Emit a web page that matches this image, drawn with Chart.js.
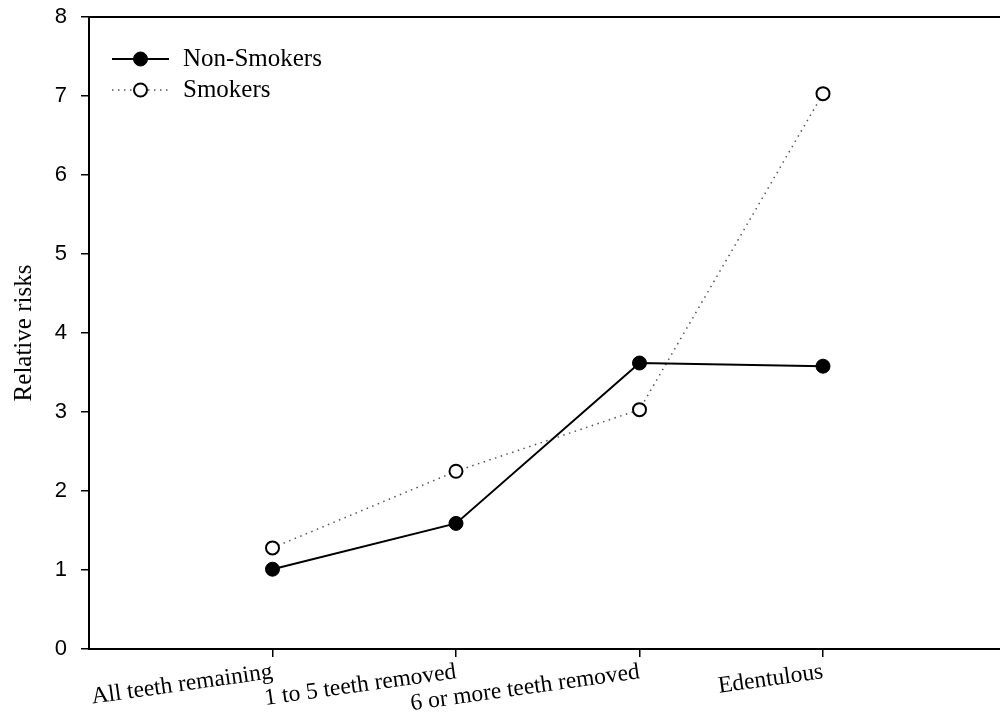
<!DOCTYPE html>
<html>
<head>
<meta charset="utf-8">
<script src="https://cdn.jsdelivr.net/npm/chart.js@4/dist/chart.umd.min.js"></script>
<style>
  html, body { margin: 0; padding: 0; background: #fff; overflow: hidden; }
  #wrap { position: relative; width: 1015px; height: 725px; }
</style>
</head>
<body>
<div id="wrap"><canvas id="c" width="1015" height="725"></canvas></div>
<script>
const categories = ['All teeth remaining', '1 to 5 teeth removed', '6 or more teeth removed', 'Edentulous'];
const categoryPositions = [1, 2, 3, 4];
const nonSmokers = [1.01, 1.59, 3.62, 3.58];
const smokers = [1.28, 2.25, 3.03, 7.03];
const yTicks = [0, 1, 2, 3, 4, 5, 6, 7, 8];
const seriesNames = ['Non-Smokers', 'Smokers'];

const toPoints = vals => vals.map((v, i) => ({ x: categoryPositions[i], y: v }));

const legendPlugin = {
  id: 'customLegend',
  afterDraw(chart) {
    const ctx = chart.ctx;
    ctx.save();
    const items = [
      { y: 59, solid: true, label: seriesNames[0] },
      { y: 90, solid: false, label: seriesNames[1] }
    ];
    items.forEach(it => {
      ctx.beginPath();
      if (it.solid) {
        ctx.setLineDash([]);
        ctx.lineWidth = 2;
        ctx.strokeStyle = '#000';
      } else {
        ctx.setLineDash([1.5, 4.5]);
        ctx.lineWidth = 1.5;
        ctx.strokeStyle = '#555';
      }
      ctx.moveTo(112, it.y);
      ctx.lineTo(169, it.y);
      ctx.stroke();
      ctx.setLineDash([]);
      ctx.beginPath();
      if (it.solid) {
        ctx.arc(140.5, it.y, 7, 0, Math.PI * 2);
        ctx.fillStyle = '#000';
        ctx.fill();
        ctx.lineWidth = 1;
        ctx.strokeStyle = '#000';
        ctx.stroke();
      } else {
        ctx.arc(140.5, it.y, 6.5, 0, Math.PI * 2);
        ctx.fillStyle = '#fff';
        ctx.fill();
        ctx.lineWidth = 2;
        ctx.strokeStyle = '#000';
        ctx.stroke();
      }
      ctx.fillStyle = '#000';
      ctx.font = '25px "Liberation Serif", "Times New Roman", serif';
      ctx.textAlign = 'left';
      ctx.textBaseline = 'middle';
      ctx.fillText(it.label, 183, it.y);
    });
    ctx.restore();
  }
};

const noPad = s => { s.paddingLeft = 0; s.paddingRight = 0; s.paddingTop = 0; s.paddingBottom = 0; };

new Chart(document.getElementById('c'), {
  type: 'line',
  data: {
    datasets: [
      {
        label: seriesNames[0],
        data: toPoints(nonSmokers),
        borderColor: '#000',
        borderWidth: 2,
        pointRadius: 7,
        pointBackgroundColor: '#000',
        pointBorderColor: '#000',
        pointBorderWidth: 1,
        fill: false,
        tension: 0
      },
      {
        label: seriesNames[1],
        data: toPoints(smokers),
        borderColor: '#555',
        borderWidth: 1.5,
        borderDash: [1.5, 4.5],
        pointRadius: 6.5,
        pointBackgroundColor: '#fff',
        pointBorderColor: '#000',
        pointBorderWidth: 2,
        fill: false,
        tension: 0
      }
    ]
  },
  options: {
    responsive: false,
    animation: false,
    layout: { padding: { top: 17, right: 0, left: 0, bottom: 0 } },
    plugins: { legend: { display: false }, tooltip: { enabled: false } },
    scales: {
      x: {
        type: 'linear',
        min: 0,
        max: 5,
        afterBuildTicks: s => { s.ticks = categoryPositions.map(v => ({ value: v })); },
        afterFit: s => { s.height = 76; noPad(s); },
        grid: { drawOnChartArea: false, drawTicks: true, tickLength: 8, color: '#000', lineWidth: 1.5 },
        border: { display: true, color: '#000', width: 2 },
        ticks: {
          color: '#000',
          font: { family: '"Liberation Serif", "Times New Roman", serif', size: 23.5 },
          minRotation: 8,
          maxRotation: 8,
          autoSkip: false,
          padding: 1,
          callback: v => categories[categoryPositions.indexOf(v)] || ''
        }
      },
      xTop: {
        type: 'linear',
        position: 'top',
        min: 0,
        max: 5,
        afterFit: s => { s.height = 0; noPad(s); },
        grid: { display: false, drawTicks: false },
        border: { display: true, color: '#000', width: 2 },
        ticks: { display: false }
      },
      y: {
        min: 0,
        max: 8,
        afterBuildTicks: s => { s.ticks = yTicks.map(v => ({ value: v })); },
        afterFit: s => { s.width = 89; noPad(s); },
        grid: { drawOnChartArea: false, drawTicks: true, tickLength: 8, color: '#000', lineWidth: 1.5 },
        border: { display: true, color: '#000', width: 2 },
        ticks: {
          color: '#000',
          font: { family: '"Liberation Sans", Arial, sans-serif', size: 22 },
          padding: 14
        },
        title: {
          display: true,
          text: 'Relative risks',
          color: '#000',
          font: { family: '"Liberation Serif", "Times New Roman", serif', size: 25 },
          padding: { top: 9, bottom: 0 }
        }
      }
    }
  },
  plugins: [legendPlugin]
});
</script>
</body>
</html>
